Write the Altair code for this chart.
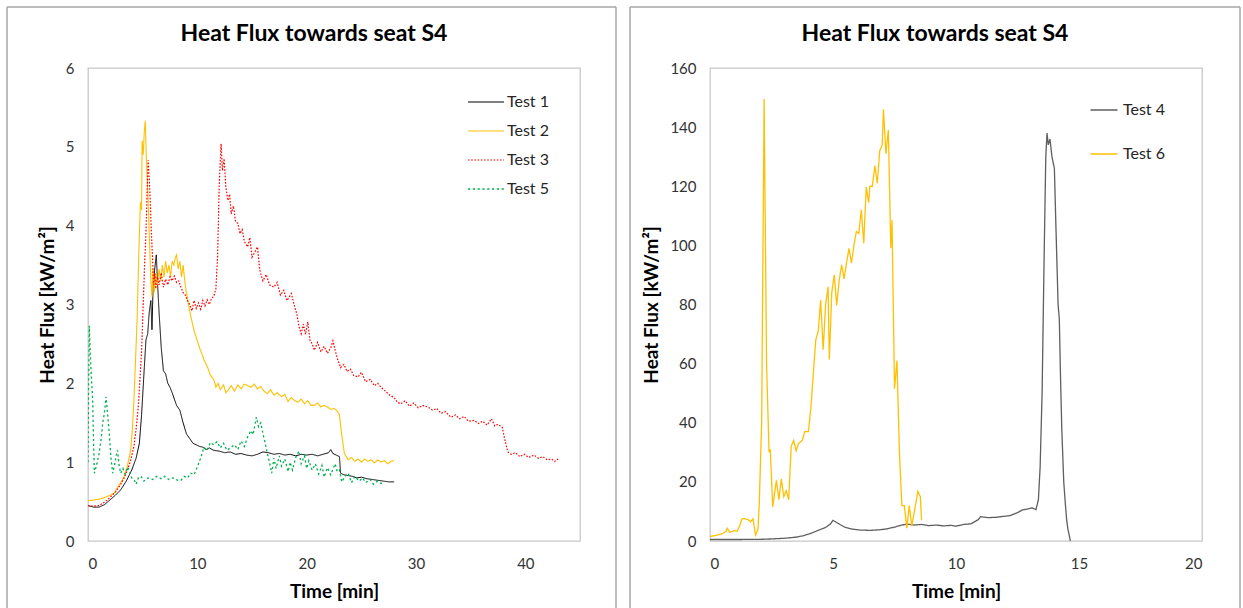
import altair as alt
import pandas as pd

TITLE = "Heat Flux towards seat S4"
Y_TITLE = "Heat Flux [kW/m²]"
X_TITLE = "Time [min]"

# ---- left panel series (time [min], heat flux [kW/m²]) ----
left_names = ["Test 1", "Test 2", "Test 3", "Test 5"]
left_colors = ["#000000", "#FFC000", "#FF0000", "#00B050"]
left_x_ticks = [0, 10, 20, 30, 40]
left_y_ticks = [0, 1, 2, 3, 4, 5, 6]

test1 = [(0,0.45),(0.5,0.43),(1,0.43),(1.5,0.46),(2,0.52),(2.5,0.58),(3,0.65),(3.5,0.76),(4,0.9),(4.4,1.05),
         (4.7,1.24),(4.9,1.6),(5.15,2.2),(5.3,2.55),(5.46,2.63),(5.6,2.9),(5.75,3.05),(5.85,2.68),(5.95,3.2),
         (6.1,3.45),(6.25,3.63),(6.35,3.3),(6.5,2.9),(6.7,2.45),(6.9,2.16),(7.1,2.12),(7.3,2.0),(7.5,1.95),
         (7.7,1.88),(7.9,1.8),(8.1,1.72),(8.4,1.66),(8.7,1.5),(9.0,1.36),(9.3,1.3),(9.6,1.24),(9.9,1.22),
         (10.2,1.2),(10.5,1.19),(10.8,1.16),(11.1,1.18),(11.5,1.15),(12,1.14),(12.5,1.12),(13,1.13),(13.5,1.1),
         (14,1.11),(14.5,1.09),(15,1.08),(15.5,1.1),(16,1.13),(16.5,1.12),(17,1.1),(17.5,1.11),(18,1.09),
         (18.5,1.1),(19,1.08),(19.5,1.1),(20,1.09),(20.5,1.1),(21,1.08),(21.5,1.1),(22,1.12),(22.2,1.16),
         (22.4,1.11),(22.7,1.09),(23,1.07),(23.1,0.86),(23.4,0.84),(23.8,0.83),(24.2,0.82),(24.6,0.8),(25,0.81),
         (25.5,0.79),(26,0.78),(26.5,0.77),(27,0.76),(27.5,0.75),(28,0.75)]

test2 = [(0,0.51),(0.5,0.52),(1,0.53),(1.5,0.55),(2,0.58),(2.4,0.61),(2.8,0.7),(3.3,0.81),(3.6,0.95),(3.9,1.15),
         (4.05,1.4),(4.2,1.78),(4.35,2.3),(4.5,2.84),(4.6,3.4),(4.7,3.9),(4.8,4.3),(4.9,4.2),(4.95,5.08),(5.05,4.9),
         (5.15,5.2),(5.24,5.33),(5.35,4.8),(5.45,4.5),(5.55,4.1),(5.65,3.7),(5.75,3.3),(5.85,3.1),(5.95,3.45),
         (6.05,3.15),(6.2,3.4),(6.35,3.25),(6.5,3.45),(6.65,3.3),(6.8,3.5),(6.95,3.35),(7.1,3.55),(7.25,3.4),
         (7.4,3.5),(7.55,3.35),(7.7,3.55),(7.85,3.5),(8.0,3.6),(8.1,3.63),(8.25,3.45),(8.4,3.55),(8.55,3.35),
         (8.7,3.5),(8.85,3.3),(9.0,3.15),(9.2,3.0),(9.4,2.85),(9.7,2.67),(10.0,2.54),(10.2,2.45),(10.4,2.38),
         (10.6,2.3),(10.95,2.2),(11.2,2.1),(11.5,2.05),(11.7,1.95),(11.9,2.0),(12.1,1.92),(12.4,1.98),(12.6,1.88),
         (12.8,1.91),(13.1,1.97),(13.4,1.9),(13.7,1.98),(14.0,1.93),(14.3,1.99),(14.6,1.97),(14.9,1.95),(15.2,1.99),
         (15.5,1.93),(15.8,1.96),(16.1,1.9),(16.4,1.87),(16.7,1.92),(17.0,1.85),(17.3,1.88),(17.7,1.83),(18.0,1.86),
         (18.3,1.77),(18.6,1.82),(18.9,1.78),(19.2,1.76),(19.5,1.8),(19.8,1.74),(20.1,1.78),(20.4,1.72),(20.7,1.72),
         (21.0,1.75),(21.3,1.7),(21.6,1.72),(21.9,1.7),(22.2,1.67),(22.5,1.68),(22.8,1.65),(23.0,1.6),(23.2,1.35),
         (23.45,1.11),(23.8,1.03),(24.1,1.06),(24.4,1.01),(24.7,1.04),(25.0,1.0),(25.3,1.04),(25.6,1.01),(25.9,1.03),
         (26.2,0.99),(26.5,1.03),(26.8,1.0),(27.1,1.02),(27.4,0.98),(27.7,1.01),(28.0,1.02)]

test3 = [(0,0.45),(0.5,0.44),(1,0.45),(1.5,0.49),(2,0.55),(2.5,0.62),(3,0.72),(3.3,0.8),(3.6,0.9),(3.9,1.02),
         (4.2,1.2),(4.4,1.42),(4.6,1.7),(4.75,2.05),(4.9,2.4),(5.0,2.8),(5.1,3.2),(5.2,3.6),(5.3,3.9),(5.4,4.4),
         (5.5,4.83),(5.6,4.6),(5.7,4.3),(5.8,3.9),(5.9,3.6),(6.0,3.25),(6.1,3.4),(6.2,3.2),(6.35,3.35),(6.5,3.25),
         (6.7,3.4),(6.9,3.22),(7.1,3.32),(7.3,3.25),(7.5,3.35),(7.7,3.3),(7.9,3.36),(8.1,3.28),(8.3,3.3),(8.5,3.22),
         (8.7,3.15),(8.9,3.12),(9.1,3.05),(9.3,3.0),(9.5,2.92),(9.7,3.05),(9.9,2.95),(10.1,3.02),(10.3,2.94),
         (10.5,3.05),(10.7,2.98),(10.9,3.06),(11.1,3.0),(11.3,3.08),(11.5,3.1),(11.7,3.2),(11.85,3.6),(12.0,4.5),
         (12.17,5.04),(12.3,4.7),(12.45,4.85),(12.6,4.5),(12.8,4.32),(12.95,4.4),(13.1,4.15),(13.3,4.25),(13.5,4.05),
         (13.7,4.03),(13.9,3.9),(14.1,3.95),(14.3,3.8),(14.6,3.73),(14.8,3.85),(15.0,3.6),(15.2,3.65),(15.5,3.73),
         (15.7,3.45),(15.8,3.39),(16.0,3.3),(16.3,3.38),(16.6,3.25),(17.0,3.22),(17.3,3.28),(17.6,3.12),(17.9,3.18),
         (18.2,3.05),(18.6,3.14),(18.9,2.97),(19.1,2.88),(19.3,2.72),(19.5,2.63),(19.7,2.75),(19.9,2.62),(20.1,2.78),
         (20.3,2.55),(20.5,2.5),(20.7,2.42),(21.0,2.52),(21.3,2.4),(21.6,2.47),(21.9,2.38),(22.2,2.45),(22.4,2.54),
         (22.6,2.42),(22.8,2.32),(23.1,2.2),(23.4,2.24),(23.7,2.15),(24.0,2.18),(24.3,2.1),(24.7,2.08),(25.0,2.14),
         (25.4,2.02),(25.8,2.05),(26.2,1.97),(26.5,2.0),(26.8,1.95),(27.2,1.9),(27.6,1.85),(28.0,1.82),(28.3,1.76),
         (28.6,1.74),(29.0,1.78),(29.4,1.71),(29.8,1.75),(30.2,1.69),(30.6,1.72),(31.1,1.7),(31.5,1.66),(31.9,1.68),
         (32.3,1.62),(32.7,1.64),(33.2,1.57),(33.6,1.6),(34.0,1.55),(34.4,1.58),(34.8,1.52),(35.3,1.53),(35.7,1.49),
         (36.1,1.52),(36.5,1.47),(36.9,1.55),(37.2,1.46),(37.5,1.48),(37.9,1.44),(38.1,1.3),(38.4,1.13),(38.7,1.1),
         (39.1,1.12),(39.5,1.07),(39.9,1.1),(40.3,1.06),(40.8,1.09),(41.2,1.05),(41.6,1.07),(42.0,1.03),(42.4,1.04),
         (42.7,1.01),(43.0,1.04)]

test5 = [(0,1.0),(0.05,1.9),(0.12,2.73),(0.2,2.4),(0.3,2.1),(0.43,1.78),(0.5,1.3),(0.58,0.86),(0.7,0.92),(0.88,1.02),
         (1.0,1.1),(1.19,1.28),(1.35,1.5),(1.5,1.62),(1.65,1.83),(1.8,1.6),(1.95,1.36),(2.1,1.05),(2.26,0.86),
         (2.45,0.98),(2.6,1.1),(2.7,1.15),(2.85,0.95),(3.0,0.86),(3.2,0.92),(3.4,0.85),(3.63,0.94),(3.8,0.88),
         (4.0,0.8),(4.24,0.77),(4.4,0.72),(4.6,0.8),(4.85,0.82),(5.1,0.76),(5.5,0.8),(5.9,0.78),(6.3,0.82),(6.7,0.79),
         (7.0,0.82),(7.4,0.78),(7.8,0.8),(8.2,0.77),(8.5,0.77),(8.8,0.82),(9.1,0.8),(9.4,0.86),(9.7,0.84),(10.0,0.94),
         (10.3,1.05),(10.6,1.19),(10.9,1.15),(11.2,1.25),(11.5,1.22),(11.8,1.26),(12.1,1.18),(12.4,1.24),(12.7,1.15),
         (13.1,1.19),(13.4,1.22),(13.7,1.16),(14.0,1.27),(14.3,1.2),(14.6,1.32),(14.9,1.4),(15.1,1.35),(15.4,1.57),
         (15.6,1.45),(15.8,1.5),(16.0,1.36),(16.2,1.25),(16.4,1.11),(16.6,1.0),(16.8,0.86),(17.0,1.05),(17.2,0.92),
         (17.5,1.08),(17.7,0.95),(18.0,1.04),(18.3,0.88),(18.5,1.0),(18.7,0.9),(19.0,1.06),(19.3,1.14),(19.5,0.98),
         (19.8,1.08),(20.0,0.92),(20.2,1.02),(20.5,0.9),(20.8,0.98),(21.1,0.85),(21.4,0.96),(21.6,0.81),(21.9,0.93),
         (22.2,0.84),(22.6,0.98),(22.8,0.88),(23.0,0.9),(23.2,0.75),(23.5,0.82),(23.8,0.86),(24.1,0.74),(24.4,0.82),
         (24.8,0.76),(25.1,0.8),(25.4,0.74),(25.8,0.78),(26.1,0.72),(26.5,0.76),(26.8,0.73),(27.0,0.74)]

# ---- right panel series ----
right_names = ["Test 4", "Test 6"]
right_colors = ["#5F5F5F", "#FFC000"]
right_x_ticks = [0, 5, 10, 15, 20]
right_y_ticks = [0, 20, 40, 60, 80, 100, 120, 140, 160]

test4 = [(0,0.5),(1,0.5),(2,0.55),(2.5,0.7),(3,0.9),(3.5,1.3),(3.8,1.8),(4.1,2.6),(4.4,3.6),(4.7,4.6),(4.9,5.8),
         (5.0,7.0),(5.1,6.5),(5.3,5.5),(5.5,4.6),(5.8,4.0),(6.1,3.7),(6.5,3.6),(6.9,3.8),(7.2,4.1),(7.5,4.7),(7.8,5.4),
         (8.0,5.7),(8.3,5.4),(8.6,5.6),(8.9,5.2),(9.2,5.4),(9.5,5.1),(9.8,5.3),(10.0,5.0),(10.3,5.6),(10.6,5.8),
         (10.9,7.2),(11.0,8.2),(11.3,7.9),(11.6,8.0),(11.9,8.3),(12.2,8.6),(12.5,9.6),(12.7,10.5),(12.9,10.8),
         (13.1,11.2),(13.25,10.6),(13.35,14),(13.42,25),(13.5,50),(13.58,95),(13.65,130),(13.7,138),(13.75,134),
         (13.82,136),(13.9,130),(14.0,126),(14.05,110),(14.1,95),(14.15,80),(14.2,75),(14.25,55),(14.3,38),
         (14.38,20),(14.45,12),(14.5,7),(14.55,4),(14.6,2),(14.65,0)]

test6 = [(0,1.5),(0.3,2.0),(0.5,2.5),(0.65,3.2),(0.7,4.3),(0.8,3.0),(1.0,3.5),(1.1,3.3),(1.2,5.0),(1.3,7.5),
         (1.4,7.6),(1.5,7.3),(1.6,7.0),(1.65,6.5),(1.75,7.5),(1.85,2.0),(1.95,4.0),(2.0,12.0),(2.1,40),(2.2,149.5),
         (2.3,60),(2.4,30),(2.45,31),(2.55,11.5),(2.7,20.5),(2.8,14),(2.9,21),(3.0,15),(3.1,17),(3.2,14),(3.3,32),
         (3.4,34),(3.5,30.5),(3.6,33),(3.75,34),(3.85,37),(4.0,37),(4.1,45),(4.3,68),(4.4,71),(4.5,81.5),(4.6,64.7),
         (4.7,80),(4.8,86),(4.85,61.4),(4.95,84),(5.05,90),(5.15,79.7),(5.25,88),(5.35,93.4),(5.45,88.7),(5.55,94),
         (5.65,99),(5.75,94),(5.85,100),(5.95,104.7),(6.05,104),(6.15,112),(6.25,100.7),(6.35,119.7),(6.45,114.5),
         (6.5,120),(6.6,120),(6.7,127),(6.8,121),(6.9,132),(7.0,134),(7.05,146),(7.15,131),(7.25,139),(7.35,99),
         (7.4,108.5),(7.5,51.5),(7.6,61),(7.7,30),(7.8,12),(7.9,12),(8.0,4.3),(8.1,12),(8.2,5),(8.35,12),(8.45,16.8),
         (8.55,15),(8.6,7)]

left_dash = [[1, 0], [1, 0], [1.6, 1.6], [2.2, 2.6]]
left_width = [1.0, 1.3, 1.3, 2.6]
right_dash = [[1, 0], [1, 0]]
right_width = [1.3, 1.3]


def long_df(names, series):
    rows = []
    for name, pts in zip(names, series):
        for t, v in pts:
            rows.append({"series": name, "t": t, "v": v})
    return pd.DataFrame(rows)


def frame_layers(left, right, top, bottom, title_x):
    d = pd.DataFrame({"k": [0]})
    base = alt.Chart(d).mark_rule(color="#A6A6A6", strokeWidth=1.5)
    title = alt.Chart(d).mark_text(text=TITLE, fontSize=23, fontWeight="bold", color="#000000",
                                   align="center", baseline="middle", font="Lato")
    return [
        base.encode(x=alt.value(left), y=alt.value(top), y2=alt.value(bottom)),
        base.encode(x=alt.value(right), y=alt.value(top), y2=alt.value(bottom)),
        base.encode(x=alt.value(left), x2=alt.value(right), y=alt.value(top)),
        title.encode(x=alt.value(title_x), y=alt.value(-34)),
    ]


def panel(df, names, colors, dashes, widths, xdom, xticks, ydom, yticks, legend, frame):
    x = alt.X("t:Q", scale=alt.Scale(domain=xdom, nice=False, zero=False),
              axis=alt.Axis(values=xticks, title=X_TITLE, grid=False, ticks=False, domain=False,
                            labelPadding=15, titlePadding=11))
    y = alt.Y("v:Q", scale=alt.Scale(domain=ydom, nice=False),
              axis=alt.Axis(values=yticks, title=Y_TITLE, grid=False, ticks=False, domain=False,
                            labelPadding=14, titlePadding=8))
    lines = alt.Chart(df).mark_line(clip=True, strokeCap="butt").encode(
        x=x, y=y,
        color=alt.Color("series:N", scale=alt.Scale(domain=names, range=colors), legend=legend),
        strokeDash=alt.StrokeDash("series:N", scale=alt.Scale(domain=names, range=dashes), legend=legend),
        strokeWidth=alt.StrokeWidth("series:N", scale=alt.Scale(domain=names, range=widths), legend=legend),
    )
    return alt.layer(*frame, lines).properties(width=492, height=473)


left_legend = alt.Legend(title=None, orient="none", legendX=390, legendY=26, symbolType="M-3,0H3",
                         symbolSize=144, labelOffset=13, rowPadding=13, labelFontSize=16,
                         labelColor="#262626", padding=0)
right_legend = alt.Legend(title=None, orient="none", legendX=386, legendY=34, symbolType="M-3,0H3",
                          symbolSize=81, labelOffset=11, rowPadding=28, labelFontSize=16,
                          labelColor="#262626", padding=0)

left = panel(long_df(left_names, [test1, test2, test3, test5]), left_names, left_colors, left_dash,
             left_width, [0, 45], left_x_ticks, [0, 6], left_y_ticks, left_legend,
             frame_layers(-81, 528, -61, 541, 226))
right = panel(long_df(right_names, [test4, test6]), right_names, right_colors, right_dash,
              right_width, [0, 20], right_x_ticks, [0, 160], right_y_ticks, right_legend,
              frame_layers(-80, 530, -61, 541, 225))

chart = alt.hconcat(left, right, spacing=10).resolve_scale(
    color="independent", strokeDash="independent", strokeWidth="independent", x="independent", y="independent"
).resolve_legend(color="independent", strokeDash="independent", strokeWidth="independent").properties(
    padding={"left": 5, "top": 5, "right": 0, "bottom": 0}
).configure(font="Lato").configure_view(stroke="#C8C8C8", strokeWidth=1.3).configure_axis(
    labelFontSize=15, labelColor="#333333", titleFontSize=19, titleFontWeight="bold", titleColor="#000000",
    labelFont="Lato", titleFont="Lato"
)

chart.save("out.html", embed_options={"renderer": "svg", "actions": False})
